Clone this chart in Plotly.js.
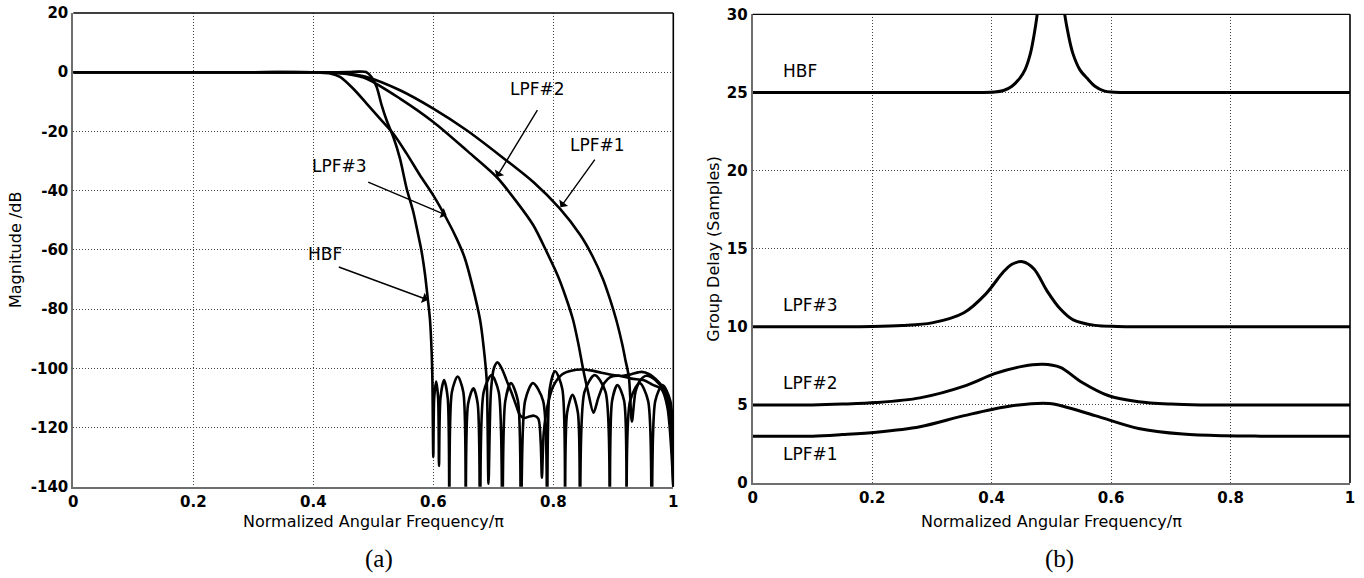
<!DOCTYPE html>
<html><head><meta charset="utf-8">
<script src="https://cdn.plot.ly/plotly-3.0.1.min.js"></script>
<style>html,body{margin:0;padding:0;background:#fff;} #chart{width:1364px;height:578px;}</style>
</head><body><div id="chart"></div>
<script>
// ---- tick values and labels ----
const freqTicks = [0, 0.2, 0.4, 0.6, 0.8, 1];
const freqTickLabels = ['0', '0.2', '0.4', '0.6', '0.8', '1'];
const magTicks = [-140, -120, -100, -80, -60, -40, -20, 0, 20];
const magTickLabels = ['-140', '-120', '-100', '-80', '-60', '-40', '-20', '0', '20'];
const delayTicks = [0, 5, 10, 15, 20, 25, 30];
const delayTickLabels = ['0', '5', '10', '15', '20', '25', '30'];

// ---- (a) magnitude responses (dB) ----
const hbfMagX = [0, 0.1, 0.2, 0.3, 0.4, 0.44, 0.46, 0.475, 0.488, 0.497, 0.5056, 0.514, 0.5222, 0.5334, 0.5445, 0.5556, 0.5667, 0.575, 0.5806, 0.586, 0.5905, 0.5945, 0.5973, 0.5985, 0.600,
  0.6015, 0.6048, 0.608, 0.6095,
  0.612, 0.6179, 0.624, 0.6268,
  0.631, 0.6406, 0.650, 0.654,
  0.658, 0.6668, 0.674, 0.678,
  0.684, 0.697, 0.709, 0.715,
  0.720, 0.7295, 0.741, 0.746,
  0.753, 0.766, 0.783, 0.7895,
  0.794, 0.803, 0.815, 0.8195,
  0.823, 0.832, 0.841, 0.8445,
  0.852, 0.869, 0.887, 0.894,
  0.898, 0.907, 0.918, 0.922,
  0.928, 0.944, 0.958, 0.964,
  0.970, 0.982, 0.995, 1.0];
const hbfMagY = [0, 0, 0, 0, 0, 0, 0.05, 0.2, 0.05, -1.6, -5.0, -11.2, -16.25, -21.9, -29.2, -39.3, -47.2, -55.1, -60.7, -68, -76, -83.7, -95, -104, -130,
  -110, -104.5, -110, -133,
  -110, -104, -110, -160,
  -108, -102.8, -108, -160,
  -112, -106.8, -112, -160,
  -108, -102.3, -108, -160,
  -111, -105, -111, -160,
  -111, -105, -111, -160,
  -107, -101, -107, -160,
  -115, -109, -115, -160,
  -108, -102.3, -108, -160,
  -111, -105.7, -111, -160,
  -111, -105, -111, -160,
  -111, -105.7, -111, -160];

const lpf3MagX = [0, 0.1, 0.2, 0.3, 0.38, 0.41, 0.428, 0.4445, 0.4667, 0.4889, 0.5111, 0.5334, 0.5556, 0.5778, 0.6, 0.6222, 0.6389, 0.652, 0.665, 0.678, 0.684, 0.689, 0.692, 0.696, 0.701, 0.707, 0.714, 0.722, 0.73, 0.738, 0.745, 0.752, 0.76, 0.768, 0.775, 0.779, 0.781, 0.784, 0.79, 0.80, 0.815, 0.83, 0.847, 0.865, 0.88, 0.9, 0.914, 0.93, 0.947, 0.96, 0.975, 0.985, 0.993, 0.998, 1.0];
const lpf3MagY = [0, 0, 0, 0, 0, -0.1, -0.4, -1.6, -5.6, -10.6, -15.7, -20.8, -27.5, -34.8, -41.6, -49.5, -56.2, -62.5, -72, -83.7, -93, -104, -139, -108, -100, -98, -100, -104, -108, -112.5, -116, -116.8, -116.3, -116, -117, -125, -137, -122, -113, -106, -102, -100.8, -100.4, -100.8, -101.5, -102.3, -102.6, -102, -101.2, -102, -104.5, -107, -112, -125, -140];

const lpf2MagX = [0, 0.1, 0.2, 0.3, 0.4, 0.43, 0.461, 0.4889, 0.5445, 0.6, 0.6556, 0.7056, 0.739, 0.7667, 0.789, 0.808, 0.82, 0.833, 0.842, 0.85, 0.858, 0.867, 0.875, 0.885, 0.895, 0.91, 0.93, 0.95, 0.965, 0.98, 0.99, 1.0];
const lpf2MagY = [0, 0, 0, 0, 0, -0.2, -0.8, -2.2, -8.9, -16.8, -26.4, -35.4, -43.8, -51.7, -60.7, -69, -75.5, -83.7, -92, -100.6, -108, -115, -110, -105, -103, -102.5, -103.5, -104, -105.5, -107, -113, -140];

const lpf1MagX = [0, 0.1, 0.2, 0.3, 0.4, 0.44, 0.461, 0.4889, 0.5445, 0.6, 0.6556, 0.7111, 0.7667, 0.811, 0.845, 0.865, 0.883, 0.895, 0.905, 0.915, 0.92, 0.926, 0.931, 0.937, 0.945, 0.955, 0.97, 0.985, 0.995, 1.0];
const lpf1MagY = [0, 0, 0, 0, 0, -0.2, -0.6, -1.6, -6.1, -12.3, -19.6, -28.1, -37.1, -46.1, -55, -62, -70, -77, -83.7, -92, -97, -103, -118, -108, -104, -102.5, -104, -108, -118, -140];

// ---- (b) group delays (samples) ----
const hbfGdX = [0, 0.1, 0.2, 0.3, 0.38, 0.405, 0.42, 0.434, 0.447, 0.456, 0.465, 0.4707, 0.478, 0.49, 0.5, 0.51, 0.5205, 0.529, 0.536, 0.5476, 0.56, 0.573, 0.588, 0.6, 0.62, 0.7, 0.8, 0.9, 1.0];
const hbfGdY = [25, 25, 25, 25, 25, 25.02, 25.12, 25.4, 25.9, 26.46, 27.5, 28.6, 30.5, 36, 40, 36, 30.5, 28.6, 27.5, 26.46, 25.9, 25.4, 25.1, 25.02, 25, 25, 25, 25, 25];

const lpf3GdX = [0, 0.1, 0.2, 0.25, 0.3, 0.3536, 0.39, 0.4195, 0.434, 0.452, 0.471, 0.4927, 0.5147, 0.5366, 0.573, 0.61, 0.65, 0.7, 0.8, 0.9, 1.0];
const lpf3GdY = [10, 10, 10.02, 10.08, 10.25, 10.9, 12.09, 13.5, 14.0, 14.16, 13.7, 12.3, 11.15, 10.44, 10.09, 10.02, 10, 10, 10, 10, 10];

const lpf2GdX = [0, 0.1, 0.15, 0.207, 0.28, 0.354, 0.405, 0.449, 0.4854, 0.515, 0.551, 0.595, 0.646, 0.7, 0.75, 0.8, 0.9, 1.0];
const lpf2GdY = [5, 5, 5.05, 5.15, 5.45, 6.2, 7.0, 7.45, 7.6, 7.4, 6.45, 5.6, 5.2, 5.05, 5.0, 5, 5, 5];

const lpf1GdX = [0, 0.1, 0.15, 0.207, 0.28, 0.354, 0.427, 0.4963, 0.573, 0.646, 0.72, 0.79, 0.85, 0.9, 1.0];
const lpf1GdY = [3, 3, 3.1, 3.25, 3.6, 4.31, 4.9, 5.09, 4.31, 3.49, 3.13, 3.02, 3.0, 3, 3];

// ---- build traces ----
const FONT = 'DejaVu Sans';
function mag(x, y) {
  return {x: x, y: y, xaxis: 'x', yaxis: 'y', type: 'scatter', mode: 'lines',
    line: {color: '#000', width: 2.6, shape: 'spline', smoothing: 0.8}, hoverinfo: 'skip'};
}
function gd(x, y) {
  return {x: x, y: y, xaxis: 'x2', yaxis: 'y2', type: 'scatter', mode: 'lines',
    line: {color: '#000', width: 3, shape: 'spline', smoothing: 0.9}, hoverinfo: 'skip'};
}
const traces = [
  mag(lpf1MagX, lpf1MagY), mag(lpf2MagX, lpf2MagY), mag(lpf3MagX, lpf3MagY), mag(hbfMagX, hbfMagY),
  gd(hbfGdX, hbfGdY), gd(lpf3GdX, lpf3GdY), gd(lpf2GdX, lpf2GdY), gd(lpf1GdX, lpf1GdY)
];

const W = 1364, H = 578;
function axisCommon() {
  return {
    showgrid: true, gridcolor: '#444', griddash: '1px,2px', gridwidth: 1,
    zeroline: false, showline: true, linecolor: '#6e6e6e', linewidth: 2,
    ticks: '', tickfont: {family: FONT, size: 15, color: '#000', weight: 'bold'},
    fixedrange: true
  };
}
const layout = {
  width: W, height: H,
  margin: {l: 0, r: 0, t: 0, b: 0},
  paper_bgcolor: '#fff', plot_bgcolor: '#fff',
  showlegend: false,
  xaxis: Object.assign(axisCommon(), {domain: [73.3 / W, 673.3 / W], range: [0, 1], tickvals: freqTicks, ticktext: freqTickLabels, anchor: 'y'}),
  yaxis: Object.assign(axisCommon(), {domain: [(H - 486.7) / H, (H - 13) / H], range: [-140, 20], tickvals: magTicks, ticktext: magTickLabels, anchor: 'x'}),
  xaxis2: Object.assign(axisCommon(), {domain: [752.7 / W, 1350 / W], range: [0, 1], tickvals: freqTicks, ticktext: freqTickLabels, anchor: 'y2'}),
  yaxis2: Object.assign(axisCommon(), {domain: [(H - 483) / H, (H - 14.3) / H], range: [0, 30], tickvals: delayTicks, ticktext: delayTickLabels, anchor: 'x2'}),
  shapes: [
    {type: 'line', xref: 'x domain', yref: 'y domain', x0: 0, x1: 1, y0: 1, y1: 1, line: {color: '#000', width: 1.3}},
    {type: 'line', xref: 'x domain', yref: 'y domain', x0: 1, x1: 1, y0: 0, y1: 1, line: {color: '#000', width: 1.6}},
    {type: 'line', xref: 'x2 domain', yref: 'y2 domain', x0: 0, x1: 1, y0: 1, y1: 1, line: {color: '#000', width: 1.3}},
    {type: 'line', xref: 'x2 domain', yref: 'y2 domain', x0: 1, x1: 1, y0: 0, y1: 1, line: {color: '#000', width: 1.6}}
  ],
  annotations: []
};

const ann = layout.annotations;
const lblFont = {family: FONT, size: 17, color: '#000'};
// left plot labels
[['LPF#2', 0.773, -5.8], ['LPF#1', 0.874, -24.6], ['LPF#3', 0.444, -31.6], ['HBF', 0.42, -61.25]].forEach(function (d) {
  ann.push({xref: 'x', yref: 'y', x: d[1], y: d[2], text: d[0], showarrow: false, xanchor: 'center', yanchor: 'middle', font: lblFont});
});
// left plot arrows
[[0.7056, -35.4, 0.775, -12.3], [0.812, -45.6, 0.871, -29], [0.6222, -48.3, 0.489, -36.9], [0.591, -76.9, 0.44, -65.6]].forEach(function (d) {
  ann.push({xref: 'x', yref: 'y', x: d[0], y: d[1], axref: 'x', ayref: 'y', ax: d[2], ay: d[3], text: '',
    showarrow: true, arrowhead: 1, arrowsize: 1.3, arrowwidth: 1.4, arrowcolor: '#000', standoff: 0, startstandoff: 0});
});
// right plot labels
[['HBF', 26.35], ['LPF#3', 11.4], ['LPF#2', 6.4], ['LPF#1', 1.84]].forEach(function (d) {
  ann.push({xref: 'x2', yref: 'y2', x: 0.047, y: d[1], text: d[0], xanchor: 'left', yanchor: 'middle', showarrow: false, font: lblFont});
});
// axis titles and panel captions (paper coordinates, explicit anchors)
function paperText(px, py, text, font, angle) {
  ann.push({xref: 'paper', yref: 'paper', x: px / W, y: 1 - py / H, text: text, showarrow: false,
    xanchor: 'center', yanchor: 'middle', textangle: angle || 0, font: font});
}
const titleFont = {family: FONT, size: 16, color: '#000'};
paperText(373.3, 521.7, 'Normalized Angular Frequency/π', titleFont);
paperText(1051, 521.7, 'Normalized Angular Frequency/π', titleFont);
paperText(16, 250, 'Magnitude /dB', titleFont, -90);
paperText(712.7, 249, 'Group Delay (Samples)', titleFont, -90);
const capFont = {family: 'Liberation Serif', size: 25, color: '#000'};
paperText(379, 559, '(a)', capFont);
paperText(1059, 559, '(b)', capFont);

Plotly.newPlot('chart', traces, layout, {staticPlot: true, displayModeBar: false});
</script>
</body></html>
